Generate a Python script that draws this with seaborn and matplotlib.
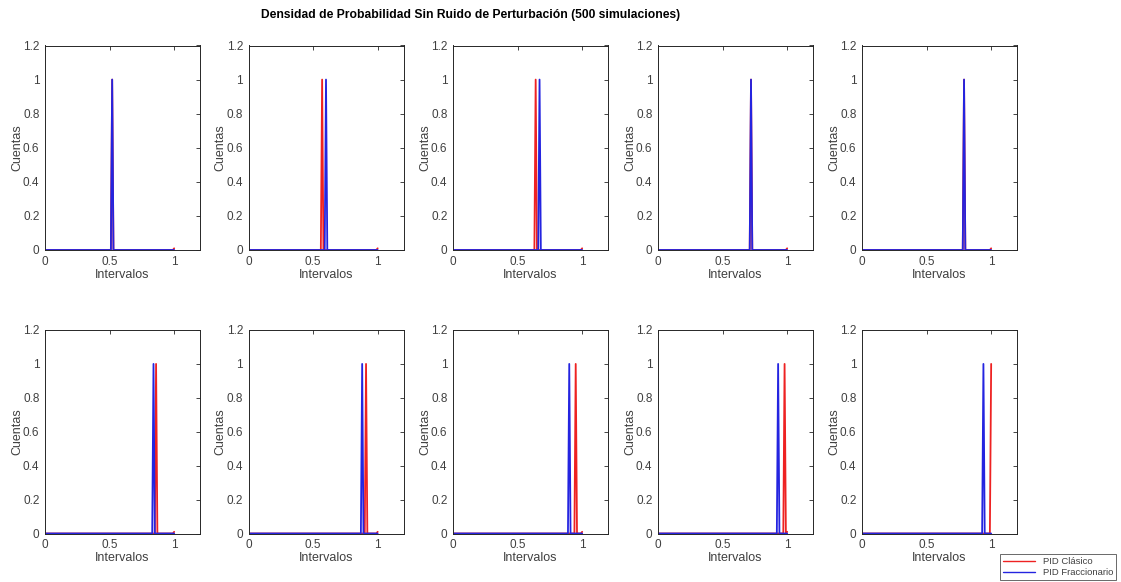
import numpy as np
import pandas as pd
import matplotlib
matplotlib.use("Agg")
import matplotlib.pyplot as plt
import seaborn as sns
from matplotlib.ticker import FuncFormatter
from matplotlib.lines import Line2D

# --- data ---
titulo = "Densidad de Probabilidad Sin Ruido de Perturbación (500 simulaciones)"
pico_clasico = [0.525, 0.572, 0.642, 0.725, 0.795, 0.858, 0.915, 0.953, 0.980, 1.000]
pico_fraccionario = [0.525, 0.600, 0.668, 0.725, 0.795, 0.843, 0.884, 0.905, 0.930, 0.940]
altura_pico = [1.0] * 10
bump_clasico = 0.01          # tiny residual count at the last interval of the red curve
intervalos = np.round(np.arange(0, 1.0001, 0.01), 2)   # histogram interval centres
series_names = ["PID Clásico", "PID Fraccionario"]
colors = {"PID Clásico": "#ee2222", "PID Fraccionario": "#2424e0"}
xticks = [0, 0.5, 1]
yticks = [0, 0.2, 0.4, 0.6, 0.8, 1.0, 1.2]


def counts_for(peak, height):
    c = np.zeros_like(intervalos, dtype=float)
    idx = int(np.argmin(np.abs(intervalos - peak)))
    c[idx] = height
    return c


rows = []
for i in range(10):
    cr = counts_for(pico_clasico[i], altura_pico[i])
    if cr[-1] == 0:
        cr[-1] = bump_clasico
    cb = counts_for(pico_fraccionario[i], altura_pico[i])
    for x, yv in zip(intervalos, cr):
        rows.append((i, series_names[0], x, yv))
    for x, yv in zip(intervalos, cb):
        rows.append((i, series_names[1], x, yv))
df = pd.DataFrame(rows, columns=["panel", "serie", "Intervalos", "Cuentas"])

sns.set_theme(style="white")
plt.rcParams["font.family"] = ["Liberation Sans", "DejaVu Sans"]

W, H = 1121, 582
fig = plt.figure(figsize=(W / 100, H / 100), dpi=100)

lefts = [45, 248.5, 453, 658, 862]
ax_w = 155
rows_px = [(45.5, 250), (330, 533.5)]
axcol = "#262626"
lblcol = "#404040"

axes = []
for r, (top, bot) in enumerate(rows_px):
    for c, lx in enumerate(lefts):
        ax = fig.add_axes([lx / W, 1 - bot / H, ax_w / W, (bot - top) / H])
        axes.append(ax)

for i, ax in enumerate(axes):
    sub = df[df["panel"] == i]
    sns.lineplot(data=sub, x="Intervalos", y="Cuentas", hue="serie",
                 palette=colors, hue_order=series_names, ax=ax,
                 linewidth=1.3, legend=False, estimator=None, sort=True)
    ax.set_xlim(0, 1.2)
    ax.set_ylim(0, 1.2)
    ax.set_xticks(xticks)
    ax.set_yticks(yticks)
    ax.xaxis.set_major_formatter(FuncFormatter(lambda v, p: f"{v:g}"))
    ax.yaxis.set_major_formatter(FuncFormatter(lambda v, p: f"{v:g}"))
    ax.tick_params(direction="in", length=3, width=0.6, top=True, right=True,
                   labelsize=8.5, colors=axcol, labelcolor=lblcol)
    ax.tick_params(axis="x", pad=4)
    ax.tick_params(axis="y", pad=4)
    for s in ax.spines.values():
        s.set_visible(True)
        s.set_color(axcol)
        s.set_linewidth(0.7)
    ax.set_xlabel("Intervalos", fontsize=9, color=lblcol, labelpad=1)
    ax.set_ylabel("Cuentas", fontsize=9, color=lblcol, labelpad=0)
    ax.set_facecolor("white")

fig.text(471 / W, 1 - 15 / H, titulo, ha="center", va="center",
         fontsize=8.7, fontweight="bold", color="black")

handles = [Line2D([0], [0], color=colors[n], lw=1.0) for n in series_names]
leg = fig.legend(handles, series_names, loc="lower right",
                 bbox_to_anchor=(1116 / W, 1 - 580 / H), fontsize=6.8,
                 frameon=True, fancybox=False, edgecolor=axcol,
                 handlelength=3.4, borderpad=0.3, labelspacing=0.25,
                 handletextpad=0.8, borderaxespad=0)
for t in leg.get_texts():
    t.set_color(lblcol)
leg.get_frame().set_linewidth(0.6)

fig.savefig("out.png", dpi=100, facecolor="white")
